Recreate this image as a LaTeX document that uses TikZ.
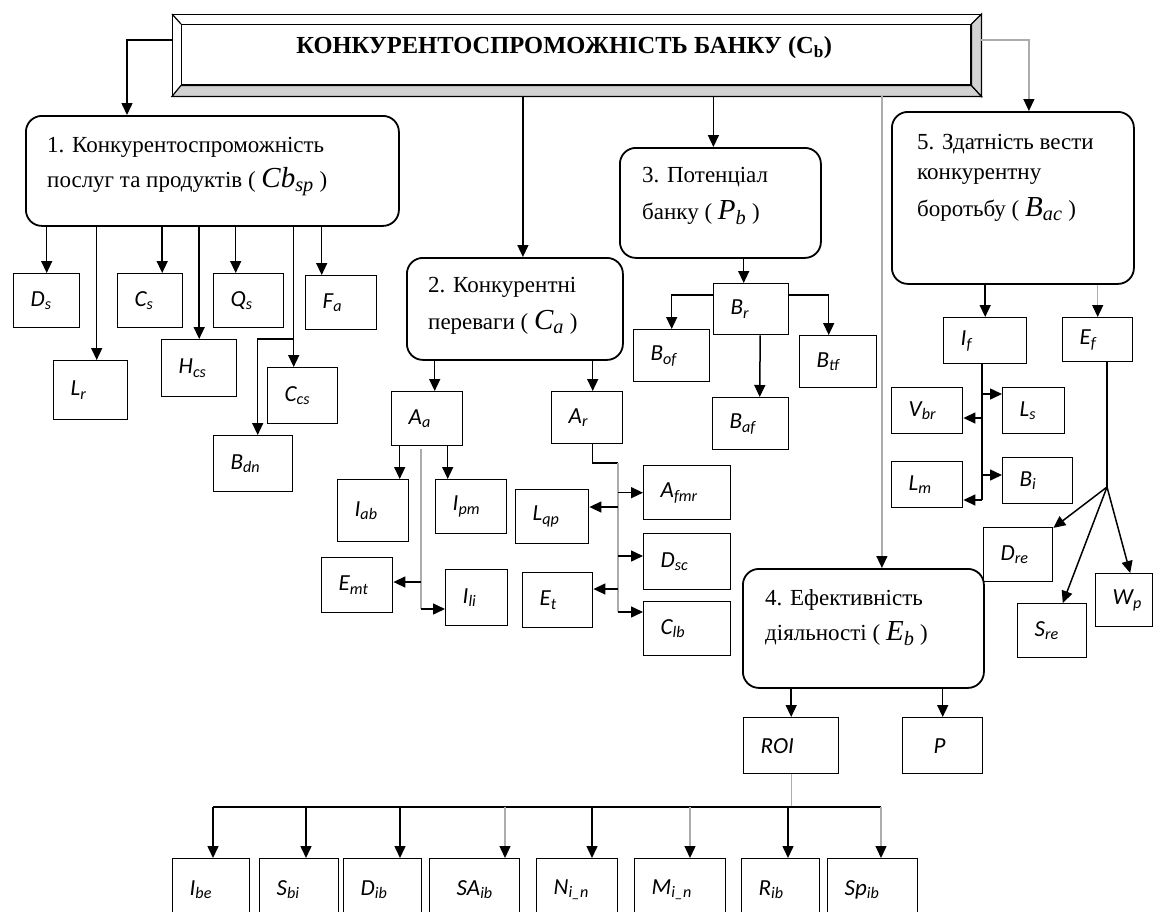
\documentclass[tikz,border=0pt]{standalone}
\usepackage{fontspec}
\setmainfont{Liberation Serif}
\newfontfamily\labfont{Carlito}
\usetikzlibrary{arrows.meta,calc}
\tikzset{
 rbx/.style={draw, line width=1.8pt, rounded corners=16pt, anchor=north west, inner sep=0pt},
 bx/.style={draw, line width=1.4pt, anchor=north west, inner sep=0pt, align=left, font=\labfont\itshape\fontsize{23}{25}\selectfont},
 btxt/.style={anchor=north west, inner sep=0pt, align=left},
 arr/.style={line width=1.5pt, -{Triangle[length=12pt,width=11pt]}},
 garr/.style={draw=gray!65, line width=1.3pt, -{Triangle[length=12pt,width=11pt,color=black]}},
 ln/.style={line width=1.5pt},
 gln/.style={draw=gray!65, line width=1.3pt},
}
\newcommand\lbl[2]{#1\textsubscript{#2}}
\newcommand\mvar[2]{{\fontsize{29}{29}\selectfont\itshape #1\textsubscript{#2}}}
\newcommand\bxn[6]{\pgfmathsetmacro\tw{#4-34}\node[bx, minimum width=#4pt, minimum height=#5pt, text width=\tw pt] (#1) at (#2,#3) {#6};}
\begin{document}
\begin{tikzpicture}[x=1pt,y=-1pt]
\useasboundingbox (0,0) rectangle (1158,911);
\clip (0,0) rectangle (1158,911);
% title
\node[draw, line width=1.4pt, anchor=north west, minimum width=808pt, minimum height=81pt, inner sep=0pt] (tout) at (172,14) {};
\node[draw, line width=1.4pt, fill=white, anchor=north west, minimum width=789pt, minimum height=60pt, inner sep=0pt, font=\bfseries\fontsize{24.5}{25}\selectfont, text height=17pt, text depth=19pt] (tin) at (181,24) {КОНКУРЕНТОСПРОМОЖНІСТЬ БАНКУ (C\textsubscript{b})\hspace*{24pt}};
\filldraw[fill=gray!35, line width=1.2pt] (tout.south west) -- (tin.south west) -- (tin.south east) -- (tout.south east) -- cycle;
\filldraw[fill=gray!35, line width=1.2pt] (tout.north east) -- (tin.north east) -- (tin.south east) -- (tout.south east) -- cycle;
\draw[line width=1.2pt] (tout.north west) -- (tin.north west);
% rounded boxes
\node[rbx, minimum width=373pt, minimum height=110pt] (b1) at (25,115) {};
\node[rbx, minimum width=216pt, minimum height=102pt] (b2) at (406,257) {};
\node[rbx, minimum width=201pt, minimum height=110pt] (b3) at (619,147) {};
\node[rbx, minimum width=242pt, minimum height=172pt] (b5) at (891,111) {};
\node[rbx, minimum width=241pt, minimum height=119pt] (b4) at (742,568) {};
\node[btxt, font=\fontsize{23}{35}\selectfont] (b1t) at (47,137) {1. Конкурентоспроможність\\послуг та продуктів ( \mvar{Cb}{sp} )};
\node[btxt, font=\fontsize{23}{37}\selectfont] (b2t) at (428,277) {2. Конкурентні\\переваги ( \mvar{C}{a} )};
\node[btxt, font=\fontsize{23}{37}\selectfont] (b3t) at (642,167) {3. Потенціал\\банку ( \mvar{P}{b} )};
\node[btxt, font=\fontsize{23}{30}\selectfont] (b5t) at (917,134) {5. Здатність вести\\конкурентну\\[7pt]боротьбу ( \mvar{B}{ac} )};
\node[btxt, font=\fontsize{23}{35}\selectfont] (b4t) at (765,589) {4. Ефективність\\діяльності ( \mvar{E}{b} )};
% rect boxes
\bxn{ds}{13}{273}{66}{54}{\lbl{D}{s}}
\bxn{cs}{117}{273}{65}{54}{\lbl{C}{s}}
\bxn{qs}{213}{273}{70}{54}{\lbl{Q}{s}}
\bxn{fa}{305}{275}{71}{54}{\lbl{F}{a}}
\bxn{lr}{53}{360}{74}{59}{\lbl{L}{r}}
\bxn{hcs}{161}{339}{75}{57}{\lbl{H}{cs}}
\bxn{ccs}{267}{367}{70}{56}{\lbl{C}{cs}}
\bxn{bdn}{213}{435}{79}{56}{\lbl{B}{dn}}
\bxn{aa}{391}{391}{71}{54}{\lbl{A}{a}}
\bxn{ar}{551}{391}{71}{52}{\lbl{A}{r}}
\bxn{iab}{337}{479}{71}{62}{\lbl{I}{ab}}
\bxn{ipm}{435}{479}{71}{54}{\lbl{I}{pm}}
\bxn{emt}{321}{557}{71}{55}{\lbl{E}{mt}}
\bxn{ili}{445}{569}{62}{56}{\lbl{I}{li}}
\bxn{lqp}{515}{489}{73}{54}{\lbl{L}{qp}}
\bxn{et}{522}{572}{70}{55}{\lbl{E}{t}}
\bxn{afmr}{643}{465}{87}{54}{\lbl{A}{fmr}}
\bxn{dsc}{643}{533}{87}{56}{\lbl{D}{sc}}
\bxn{clb}{643}{601}{87}{54}{\lbl{C}{lb}}
\bxn{br}{713}{283}{75}{51}{\lbl{B}{r}}
\bxn{bof}{633}{329}{76}{52}{\lbl{B}{of}}
\bxn{baf}{712}{397}{76}{52}{\lbl{B}{af}}
\bxn{btf}{799}{335}{77}{52}{\lbl{B}{tf}}
\bxn{iff}{943}{317}{83}{46}{\lbl{I}{f}}
\bxn{ef}{1062}{317}{70}{44}{\lbl{E}{f}}
\bxn{vbr}{891}{387}{71}{46}{\lbl{V}{br}}
\bxn{ls}{1002}{387}{62}{46}{\lbl{L}{s}}
\bxn{lm}{891}{461}{71}{46}{\lbl{L}{m}}
\bxn{bi}{1002}{457}{70}{46}{\lbl{B}{i}}
\bxn{dre}{983}{527}{69}{54}{\lbl{D}{re}}
\bxn{sre}{1017}{603}{69}{54}{\lbl{S}{re}}
\bxn{wp}{1095}{573}{57}{53}{\lbl{W}{p}}
\bxn{roi}{743}{717}{95}{56}{ROI}
\bxn{pp}{902}{717}{80}{56}{\hspace*{14pt}P}
\bxn{ibe}{172}{858}{77}{62}{\lbl{I}{be}}
\bxn{sbi}{259}{858}{79}{62}{\lbl{S}{bi}}
\bxn{dib}{343}{858}{78}{62}{\lbl{D}{ib}}
\bxn{saib}{429}{858}{90}{62}{\hspace*{10pt}\lbl{SA}{ib}}
\bxn{nln}{536}{858}{81}{62}{\lbl{N}{i\_n}}
\bxn{mln}{634}{858}{91}{62}{\lbl{M}{i\_n}}
\bxn{rib}{741}{858}{78}{62}{\lbl{R}{ib}}
\bxn{spib}{827}{858}{90}{62}{\lbl{Sp}{ib}}
% title connectors
\coordinate (k1) at (127,40);
\draw[arr] (tout.west |- k1) -- (k1) -- (k1 |- b1.north);
\draw[arr] ([xshift=8pt]b2.north |- tout.south) -- ([xshift=8pt]b2.north);
\draw[arr] ([xshift=-7pt]b3.north |- tout.south) -- ([xshift=-7pt]b3.north);
\draw[garr] ([xshift=18.5pt]b4.north |- tout.south) -- ([xshift=18.5pt]b4.north);
\draw[garr] (tout.east |- k1) -| ([xshift=16pt]b5.north);
% box 1
\draw[arr] (ds.north |- b1.south) -- (ds.north);
\draw[arr] ([xshift=6pt]lr.north |- b1.south) -- ([xshift=6pt]lr.north);
\draw[arr] ([xshift=12pt]cs.north |- b1.south) -- ([xshift=12pt]cs.north);
\draw[arr] (hcs.north |- b1.south) -- (hcs.north);
\draw[arr] ([xshift=-13pt]qs.north |- b1.south) -- ([xshift=-13pt]qs.north);
\draw[arr] ([xshift=-9pt]ccs.north |- b1.south) -- ([xshift=-9pt]ccs.north);
\coordinate (k2) at (293,339);
\draw[arr] (k2) -| ([xshift=4.5pt]bdn.north);
\draw[arr] ([xshift=-19.5pt]fa.north |- b1.south) -- ([xshift=-19.5pt]fa.north);
% box 2
\draw[arr] ([xshift=7.5pt]aa.north |- b2.south) -- ([xshift=7.5pt]aa.north);
\draw[arr] ([xshift=5.5pt]ar.north |- b2.south) -- ([xshift=5.5pt]ar.north);
\draw[arr] ([xshift=26.5pt]iab.north |- aa.south) -- ([xshift=26.5pt]iab.north);
\draw[arr] ([xshift=-23.5pt]ipm.north |- aa.south) -- ([xshift=-23.5pt]ipm.north);
\coordinate (k3) at (421,582);
\coordinate (k4) at (421,609);
\draw[gln] ([yshift=-3pt]aa.south -| k3) -- (k4);
\draw[arr] (k3) -- (k3 -| emt.east);
\draw[arr] (k4) -- (k4 -| ili.west);
\coordinate (k5) at (618,463);
\coordinate (k6) at (618,612);
\coordinate (k7) at (618,507);
\coordinate (k8) at (618,556);
\coordinate (k9) at (618,589);
\draw[ln] ([xshift=5.5pt]ar.south) |- (k5);
\draw[gln] (k5) -- (k6);
\draw[arr] (k5 |- afmr.west) -- (afmr.west);
\draw[arr] (k7) -- (k7 -| lqp.east);
\draw[arr] (k8) -- (k8 -| dsc.west);
\draw[arr] (k9) -- (k9 -| et.east);
\draw[arr] (k6) -- (k6 -| clb.west);
% box 3
\draw[arr] ([xshift=-7.5pt]br.north |- b3.south) -- ([xshift=-7.5pt]br.north);
\coordinate (k10) at (673,295);
\draw[arr] (br.west |- k10) -| (bof.north);
\draw[arr] ([xshift=9pt]br.south) -- ([xshift=9pt]baf.north);
\draw[arr] (br.east |- k10) -| ([xshift=-9.5pt]btf.north);
% box 5
\draw[arr] (iff.north |- b5.south) -- (iff.north);
\draw[garr] (ef.north |- b5.south) -- (ef.north);
\coordinate (k11) at (982,394);
\coordinate (k12) at (982,418);
\coordinate (k13) at (982,475);
\coordinate (k14) at (982,500);
\draw[ln] (iff.south -| k14) -- (k14);
\draw[arr] (k11) -- (k11 -| ls.west);
\draw[arr] (k12) -- (k12 -| vbr.east);
\draw[arr] (k13) -- (k13 -| bi.west);
\draw[arr] (k14) -- (k14 -| lm.east);
\coordinate (k15) at (1107,487);
\draw[ln] (ef.south -| k15) -- (k15);
\draw[arr] (k15) -- (dre);
\draw[arr] (k15) -- (sre);
\draw[arr] (k15) -- ([xshift=6pt]wp.north);
% box 4
\draw[arr] (roi.north |- b4.south) -- (roi.north);
\draw[arr] (pp.north |- b4.south) -- (pp.north);
\coordinate (m1) at (213,807);
\coordinate (m2) at (306,807);
\coordinate (m3) at (400,807);
\coordinate (m4) at (505,807);
\coordinate (m5) at (592,807);
\coordinate (m6) at (690,807);
\coordinate (m7) at (788,807);
\coordinate (m8) at (881,807);
\draw[gln] (roi.south) -- (roi.south |- m1);
\draw[ln] (m1) -- (m8);
\draw[arr] (m1) -- (m1 |- ibe.north);
\draw[arr] (m2) -- (m2 |- sbi.north);
\draw[arr] (m3) -- (m3 |- dib.north);
\draw[garr] (m4) -- (m4 |- saib.north);
\draw[arr] (m5) -- (m5 |- nln.north);
\draw[garr] (m6) -- (m6 |- mln.north);
\draw[arr] (m7) -- (m7 |- rib.north);
\draw[garr] (m8) -- (m8 |- spib.north);
\end{tikzpicture}
\end{document}
